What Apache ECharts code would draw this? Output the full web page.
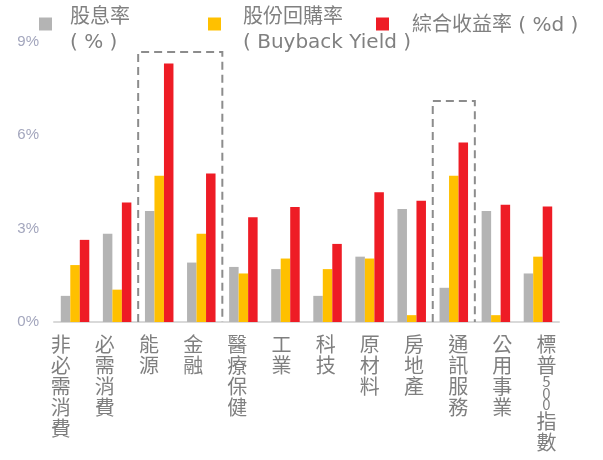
<!DOCTYPE html>
<html><head><meta charset="utf-8">
<script src="https://cdn.jsdelivr.net/npm/echarts@6/dist/echarts.min.js"></script>
<style>html,body{margin:0;padding:0;background:#fff}#c{width:603px;height:460px}</style>
</head><body><div id="c"></div>
<script>
const categories = ['非必需消費','必需消費','能源','金融','醫療保健','工業','科技','原材料','房地產','通訊服務','公用事業','標普500指數'];
const dividendYield = [0.84, 2.84, 3.57, 1.91, 1.77, 1.70, 0.84, 2.10, 3.63, 1.10, 3.57, 1.56];
const buybackYield  = [1.83, 1.04, 4.70, 2.84, 1.56, 2.04, 1.70, 2.04, 0.22, 4.70, 0.22, 2.10];
const totalYield    = [2.64, 3.84, 8.31, 4.77, 3.37, 3.70, 2.51, 4.17, 3.90, 5.77, 3.77, 3.71];
const seriesNames = ['股息率\n( % )', '股份回購率\n( Buyback Yield )', '綜合收益率 ( %d )'];
const highlightBoxes = [[2, 3, 8.68], [9, 9, 7.10]]; // [start category, end category, top value]
const yTicks = [0, 3, 6, 9];

const font = '"Noto Sans CJK TC", "Noto Sans", sans-serif';
const legendFont = '"DejaVu Sans", "Noto Sans CJK TC", sans-serif';
const chart = echarts.init(document.getElementById('c'));
const legendBase = {
  orient: 'horizontal', padding: 0, itemWidth: 13, itemHeight: 13, selectedMode: false,
  icon: 'rect'
};
const spacedFormatter = key => name => '{' + key + '|.}\n' + name.split('\n').map(l => '{t|' + l + '}').join('\n');
const legendRich = {
  s: {fontSize: 1, lineHeight: 13, color: 'rgba(0,0,0,0)'},
  u: {fontSize: 1, lineHeight: 3, color: 'rgba(0,0,0,0)'},
  t: {color: '#808080', fontSize: 20, lineHeight: 25, fontFamily: legendFont}
};
chart.setOption({
  animation: false,
  grid: [
    {left: 54, right: 44, top: 42, bottom: 138},
    {left: 38.6, right: 34.4, top: 42, bottom: 138}
  ],
  legend: [
    Object.assign({}, legendBase, {left: 39, top: -7.5, data: [seriesNames[0]], formatter: spacedFormatter('s'),
      textStyle: {color: '#808080', fontSize: 20, lineHeight: 25, fontFamily: legendFont, padding: [0, 0, 0, 13], rich: legendRich}}),
    Object.assign({}, legendBase, {left: 208, top: -7.5, data: [seriesNames[1]], formatter: spacedFormatter('s'),
      textStyle: {color: '#808080', fontSize: 20, lineHeight: 25, fontFamily: legendFont, padding: [0, 0, 0, 17], rich: legendRich}}),
    Object.assign({}, legendBase, {left: 376, top: 10, data: [seriesNames[2]], formatter: spacedFormatter('u'),
      textStyle: {color: '#808080', fontSize: 20, lineHeight: 25, fontFamily: legendFont, padding: [0, 0, 0, 18], rich: legendRich}})
  ],
  xAxis: [
    {type: 'category', gridIndex: 0, data: categories,
     axisLine: {lineStyle: {color: '#d9d9d9', width: 2}}, axisTick: {show: false}, axisLabel: {show: false}},
    {type: 'category', gridIndex: 1, data: categories,
     axisLine: {show: false}, axisTick: {show: false},
     axisLabel: {
       interval: 0, margin: 12, color: '#7f7f7f', fontSize: 20, lineHeight: 21, fontFamily: font,
       formatter: v => v.split('').map(c => /\d/.test(c) ? '{d|' + c + '}' : c).join('\n'),
       rich: {d: {fontSize: 15, lineHeight: 11.5, color: '#7f7f7f', fontFamily: font}}
     }}
  ],
  yAxis: [
    {type: 'value', gridIndex: 0, min: yTicks[0], max: yTicks[yTicks.length - 1], interval: yTicks[1] - yTicks[0],
     splitLine: {show: false}, axisLine: {show: false}, axisTick: {show: false},
     axisLabel: {formatter: '{value}%', color: '#a3a6bd', fontSize: 15, margin: 15, fontFamily: '"Liberation Sans", Arial, sans-serif'}},
    {type: 'value', gridIndex: 1, show: false, min: 0, max: 9}
  ],
  series: [
    {name: seriesNames[0], type: 'bar', data: dividendYield, barWidth: 9.5, barGap: '0%', itemStyle: {color: '#b4b4b4'}},
    {name: seriesNames[1], type: 'bar', data: buybackYield, barWidth: 9.5, barGap: '0%', itemStyle: {color: '#ffc000'}},
    {name: seriesNames[2], type: 'bar', data: totalYield, barWidth: 9.5, barGap: '0%', itemStyle: {color: '#ee1c25'}},
    {type: 'custom', xAxisIndex: 0, yAxisIndex: 0, data: highlightBoxes, z: 5,
     renderItem: (params, api) => {
       const s = api.value(0), e = api.value(1), top = api.value(2);
       const bw = api.size([1, 0])[0];
       const p0 = api.coord([s, top]);
       const p1 = api.coord([e, 0]);
       const x0 = p0[0] - bw / 2, x1 = p1[0] + bw / 2;
       return {type: 'polyline', shape: {points: [[x0, p1[1]], [x0, p0[1]], [x1, p0[1]], [x1, p1[1]]]},
         style: {fill: null, stroke: '#8c8c8c', lineWidth: 2, lineDash: [8, 5]}};
     }}
  ]
});
</script></body></html>
